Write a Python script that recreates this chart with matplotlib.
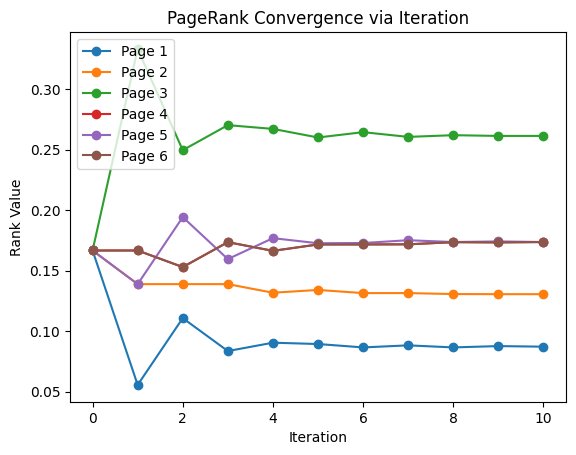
import matplotlib
matplotlib.use("Agg")
import matplotlib.pyplot as plt

iterations = list(range(11))

page1 = [0.1667, 0.0556, 0.1108, 0.0836, 0.0905, 0.0894, 0.0866, 0.0883, 0.0866, 0.0877, 0.0872]
page2 = [0.1667, 0.1389, 0.1389, 0.1389, 0.1318, 0.1341, 0.1315, 0.1315, 0.1307, 0.1306, 0.1306]
page3 = [0.1667, 0.3333, 0.2496, 0.2703, 0.2672, 0.2601, 0.2645, 0.2606, 0.2620, 0.2614, 0.2614]
page4 = [0.1667, 0.1667, 0.1530, 0.1736, 0.1664, 0.1717, 0.1717, 0.1718, 0.1736, 0.1734, 0.1737]
page5 = [0.1667, 0.1389, 0.1943, 0.1596, 0.1769, 0.1727, 0.1729, 0.1752, 0.1737, 0.1742, 0.1737]
page6 = [0.1667, 0.1667, 0.1530, 0.1736, 0.1664, 0.1717, 0.1717, 0.1718, 0.1736, 0.1734, 0.1737]

series = [page1, page2, page3, page4, page5, page6]
labels = ["Page 1", "Page 2", "Page 3", "Page 4", "Page 5", "Page 6"]

fig, ax = plt.subplots()
for vals, lab in zip(series, labels):
    ax.plot(iterations, vals, marker="o", label=lab)

ax.set_title("PageRank Convergence via Iteration")
ax.set_xlabel("Iteration")
ax.set_ylabel("Rank Value")
ax.legend(loc="upper left")

fig.savefig("out.png", bbox_inches="tight")
